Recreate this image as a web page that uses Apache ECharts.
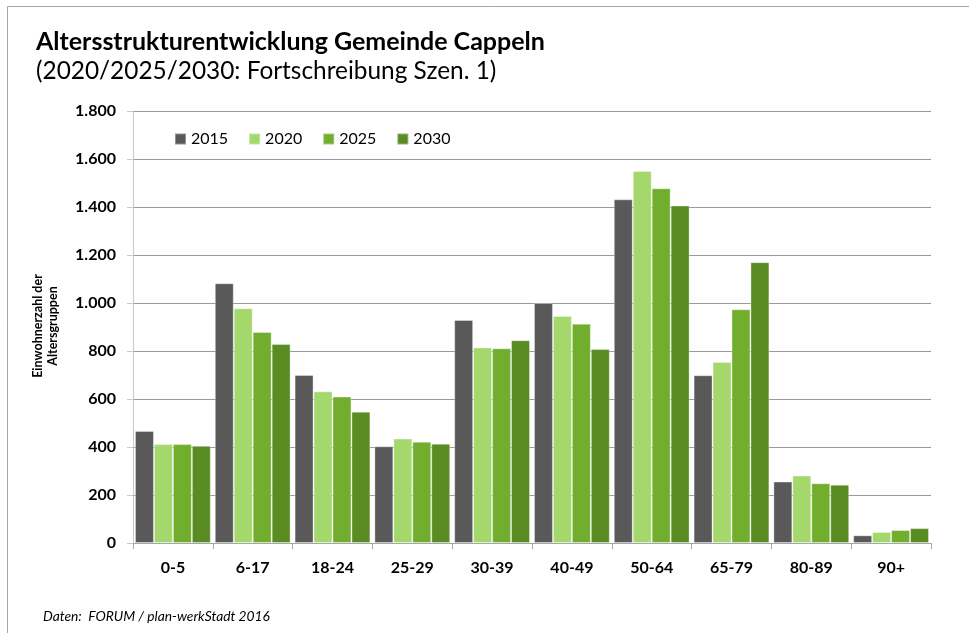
<!DOCTYPE html>
<html>
<head>
<meta charset="UTF-8">
<title>Altersstrukturentwicklung Gemeinde Cappeln</title>
<style>
  html, body { margin: 0; padding: 0; background: #fff; }
  #chart { width: 969px; height: 633px; }
</style>
</head>
<body>
<div id="chart"></div>
<script src="https://cdn.jsdelivr.net/npm/echarts@6/dist/echarts.min.js"></script>
<script>
// Altersgruppen
var ageGroups = ['0-5', '6-17', '18-24', '25-29', '30-39', '40-49', '50-64', '65-79', '80-89', '90+'];
var years = ['2015', '2020', '2025', '2030'];

// Einwohner je Altersgruppe
var values2015 = [467, 1082, 700, 403, 929, 1000, 1432, 699, 256, 32];
var values2020 = [412, 978, 632, 435, 815, 946, 1550, 754, 281, 46];
var values2025 = [412, 879, 610, 422, 811, 914, 1478, 974, 249, 54];
var values2030 = [405, 829, 547, 414, 845, 808, 1406, 1170, 243, 62];

var colors = ['#595959', '#a5d86c', '#72ae2e', '#5a8c24'];
var font = 'Lato, "Open Sans", sans-serif';

var chart = echarts.init(document.getElementById('chart'));

function fmt(v) {
    // Tausenderpunkt
    return String(v).replace(/\B(?=(\d{3})+(?!\d))/g, '.');
}

function bar(name, data, i) {
    return {
        name: name,
        type: 'bar',
        data: data,
        barGap: '0%',
        barCategoryGap: '5%',
        itemStyle: {
            color: colors[i],
            borderColor: 'rgba(255,255,255,0.35)',
            borderWidth: 1
        }
    };
}

chart.setOption({
    animation: false,
    textStyle: { fontFamily: font },
    title: {
        text: 'Altersstrukturentwicklung Gemeinde Cappeln',
        subtext: '(2020/2025/2030: Fortschreibung Szen. 1)',
        left: 31,
        top: 24,
        itemGap: 5,
        textStyle: { fontFamily: font, fontSize: 25, fontWeight: 'bold', color: '#000' },
        subtextStyle: { fontFamily: font, fontSize: 24.4, color: '#000' }
    },
    legend: {
        data: years,
        left: 169,
        top: 126,
        itemWidth: 11,
        itemHeight: 11,
        itemGap: 20,
        icon: 'rect',
        textStyle: { fontFamily: font, fontSize: 16, color: '#000' }
    },
    grid: { left: 133, right: 38, top: 111, bottom: 90 },
    xAxis: {
        type: 'category',
        data: ageGroups,
        axisLine: { lineStyle: { color: '#a6a6a6' } },
        axisTick: { show: true, length: 6, lineStyle: { color: '#a6a6a6' } },
        axisLabel: { margin: 17, fontFamily: font, fontSize: 16, fontWeight: 'bold', color: '#000' }
    },
    yAxis: {
        type: 'value',
        min: 0,
        max: 1800,
        interval: 200,
        axisLine: { show: true, lineStyle: { color: '#c8c8c8' } },
        axisTick: { show: true, length: 6, lineStyle: { color: '#c8c8c8' } },
        splitLine: { lineStyle: { color: '#9a9a9a' } },
        axisLabel: { margin: 17, fontFamily: font, fontSize: 16, fontWeight: 'bold', color: '#000', formatter: fmt }
    },
    graphic: [
        {
            type: 'rect',
            shape: { x: 7.5, y: 6.5, width: 1000, height: 700 },
            style: { fill: 'none', stroke: '#a6a6a6', lineWidth: 1 },
            silent: true
        },
        {
            type: 'text',
            x: 45,
            y: 326,
            rotation: Math.PI / 2,
            style: {
                text: 'Einwohnerzahl der\nAltersgruppen',
                align: 'center',
                verticalAlign: 'middle',
                fontFamily: font,
                fontSize: 12.5,
                fontWeight: 'bold',
                lineHeight: 15,
                fill: '#000'
            }
        },
        {
            type: 'text',
            left: 43,
            top: 610,
            style: {
                text: 'Daten:  FORUM / plan-werkStadt 2016',
                fontFamily: font,
                fontSize: 13.8,
                fontStyle: 'italic',
                fill: '#000'
            }
        }
    ],
    series: [
        bar(years[0], values2015, 0),
        bar(years[1], values2020, 1),
        bar(years[2], values2025, 2),
        bar(years[3], values2030, 3)
    ]
});
</script>
</body>
</html>
